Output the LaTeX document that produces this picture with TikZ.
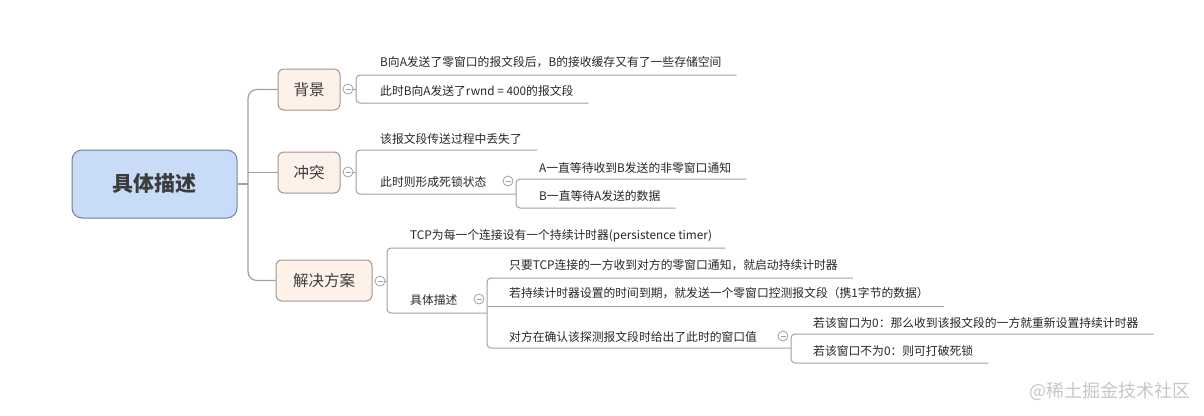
\documentclass[tikz,border=0pt]{standalone}
\usepackage{fontspec}
\setmainfont{Noto Sans CJK SC}
\usetikzlibrary{positioning}
\definecolor{rootfill}{RGB}{201, 220, 247}
\definecolor{rootedge}{RGB}{110, 128, 155}
\definecolor{topicfill}{RGB}{253, 241, 234}
\definecolor{topicedge}{RGB}{160, 150, 142}
\definecolor{linegray}{RGB}{160, 160, 160}
\definecolor{inkgray}{RGB}{60, 60, 60}

\begin{document}
\begin{tikzpicture}[x=1pt, y=-1pt,
    rootbox/.style={draw=rootedge, fill=rootfill, line width=1pt, rounded corners=10pt,
        minimum width=165pt, minimum height=68pt, font=\fontsize{21}{24}\selectfont\bfseries, text=inkgray},
    topic/.style={draw=topicedge, fill=topicfill, line width=1pt, rounded corners=6pt,
        minimum height=41pt, font=\fontsize{15.5}{18}\selectfont, text=inkgray},
    leaf/.style={anchor=west, inner xsep=0pt, inner ysep=1pt, font=\fontsize{11.8}{14}\selectfont, text=black!85},
    fold/.style={circle, draw=linegray, fill=white, line width=0.8pt, minimum size=10pt, inner sep=0pt,
        path picture={\draw[linegray, line width=0.8pt] ([xshift=-2.5pt]path picture bounding box.center)
            -- ([xshift=2.5pt]path picture bounding box.center);}},
    branch/.style={draw=linegray, line width=1pt, rounded corners=4pt},
    trunk/.style={draw=linegray, line width=1.2pt, rounded corners=9pt}]
    % Frame
    \useasboundingbox (0,0) rectangle (1204,415);
    % Root & topics
    \node[rootbox]                        (root) at (154.5, 184.0) {具体描述};
    \node[topic, minimum width=62pt]      (bg)   at (309.0,  89.5) {背景};
    \node[topic, minimum width=62pt]      (ct)   at (309.0, 172.5) {冲突};
    \node[topic, minimum width=96pt]      (fa)   at (324.0, 280.5) {解决方案};
    \coordinate (spine) at (248, 184);
    \draw[trunk] (bg.west) -- (bg.west -| spine) -- (fa.west -| spine) -- (fa.west);
    \draw[trunk] (root.east) -- (spine);
    \draw[trunk] (ct.west -| spine) -- (ct.west);
    % Fold marks
    \node[fold] (bgfold) at (348, 89)  {};
    \node[fold] (ctfold) at (348, 172) {};
    \node[fold] (fafold) at (380, 281) {};
    \node[fold] (lkfold) at (508, 181) {};
    \node[fold] (sdfold) at (479, 299) {};
    \node[fold] (ckfold) at (783, 336) {};
    % Background
    \node[leaf] (bg1) at (380,  62) {B向A发送了零窗口的报文段后，B的接收缓存又有了一些存储空间};
    \node[leaf] (bg2) at (380,  91) {此时B向A发送了rwnd = 400的报文段};
    \coordinate (bgtop) at (356, 75);
    \coordinate (bgbot) at (356, 103);
    \draw[branch] ([xshift=15pt]bg1.east |- bgtop) -- (bgtop) -- (bgbot) -- ([xshift=15pt]bg2.east |- bgbot);
    \draw[branch] (bgfold.east) -- (bgfold.east -| bgtop);
    % Conflict
    \node[leaf] (ct1)  at (380, 139) {该报文段传送过程中丢失了};
    \node[leaf] (ct2)  at (380, 182) {此时则形成死锁状态};
    \node[leaf] (ct21) at (539, 168) {A一直等待收到B发送的非零窗口通知};
    \node[leaf] (ct22) at (539, 196) {B一直等待A发送的数据};
    \coordinate (cttop)  at (356, 150);
    \coordinate (ctbot)  at (356, 194);
    \coordinate (lktop)  at (516, 179);
    \coordinate (lkbot)  at (516, 208);
    \draw[branch] ([xshift=15pt]ct1.east |- cttop) -- (cttop) -- (ctbot) -- (ctbot -| lktop);
    \draw[branch] ([xshift=15pt]ct21.east |- lktop) -- (lktop) -- (lkbot) -- ([xshift=15pt]ct22.east |- lkbot);
    \draw[branch] (ctfold.east) -- (ctfold.east -| cttop);
    % Solution
    \node[leaf] (fa1)  at (410, 236) {TCP为每一个连接设有一个持续计时器(persistence timer)};
    \node[leaf] (fa2)  at (410, 300) {具体描述};
    \node[leaf] (fa21) at (509, 265) {只要TCP连接的一方收到对方的零窗口通知，就启动持续计时器};
    \node[leaf] (fa22) at (509, 293) {若持续计时器设置的时间到期，就发送一个零窗口控测报文段（携1字节的数据）};
    \node[leaf] (fa23) at (509, 337) {对方在确认该探测报文段时给出了此时的窗口值};
    \node[leaf] (fa31) at (813, 323) {若该窗口为0：那么收到该报文段的一方就重新设置持续计时器};
    \node[leaf] (fa32) at (813, 351) {若该窗口不为0：则可打破死锁};
    \coordinate (fatop) at (387, 248);
    \coordinate (fabot) at (387, 313);
    \coordinate (sdtop) at (487, 278);
    \coordinate (sdmid) at (487, 306);
    \coordinate (sdbot) at (487, 348);
    \coordinate (cktop) at (791, 334);
    \coordinate (ckbot) at (791, 363);
    \draw[branch] ([xshift=13pt]fa1.east |- fatop) -- (fatop) -- (fabot) -- (fabot -| sdtop);
    \draw[branch] ([xshift=15pt]fa21.east |- sdtop) -- (sdtop) -- (sdbot) -- (sdbot -| cktop);
    \draw[branch] (sdmid) -- ([xshift=15pt]fa22.east |- sdmid);
    \draw[branch] ([xshift=15pt]fa31.east |- cktop) -- (cktop) -- (ckbot) -- ([xshift=15pt]fa32.east |- ckbot);
    \draw[branch] (fafold.east) -- (fafold.east -| fatop);
    % Watermark
    \node[text=gray!45, font=\fontsize{18}{20}\selectfont] (mark) at (1110, 391) {@稀土掘金技术社区};
\end{tikzpicture}
\end{document}
